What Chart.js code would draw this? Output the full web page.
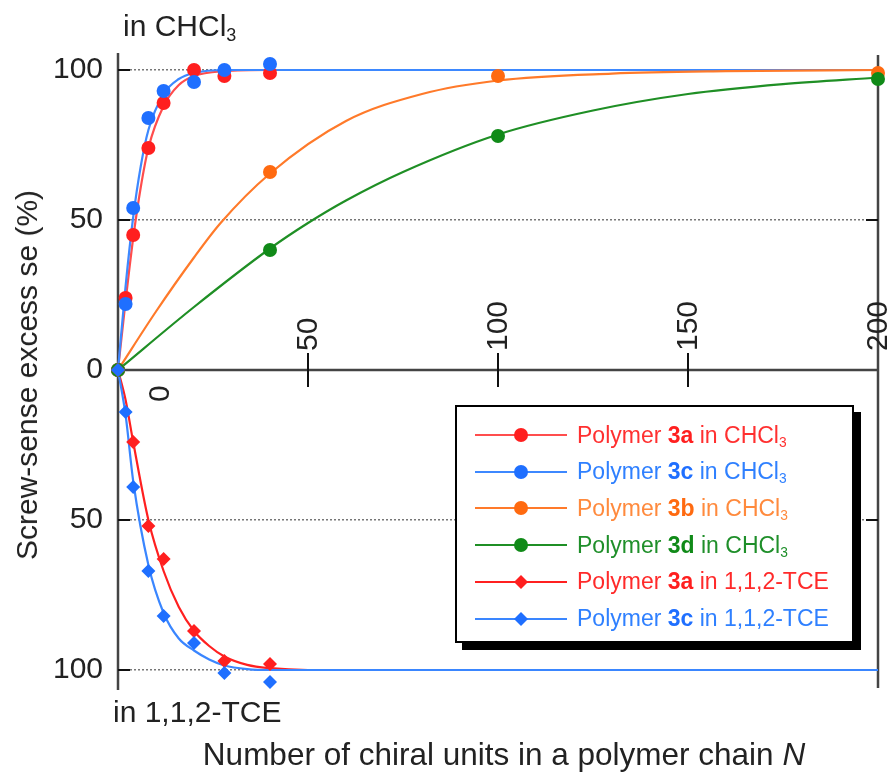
<!DOCTYPE html>
<html>
<head>
<meta charset="utf-8">
<script src="https://cdn.jsdelivr.net/npm/chart.js@4.4.1/dist/chart.umd.min.js"></script>
<style>
  body { margin: 0; background: #fff; }
  #wrap { position: relative; width: 889px; height: 772px; overflow: hidden; font-family: "Liberation Sans", Arial, sans-serif; color: #222; }
  .lbl { position: absolute; font-size: 30px; line-height: 30px; white-space: nowrap; }
  sub { font-size: 0.6em; vertical-align: -0.3em; line-height: 0; }
  #ytitle { left: 27px; top: 375px; transform: translate(-50%, -50%) rotate(-90deg); }
  #xtitle { left: 504px; top: 739px; font-size: 31.5px; line-height: 31.5px; transform: translateX(-50%); }
  #legend { position: absolute; left: 455px; top: 405px; width: 395px; height: 234px; border: 2px solid #000;
            background: #fff; box-shadow: 7px 7px 0 #000; }
  .row { position: absolute; left: 18px; height: 24px; display: flex; align-items: center; font-size: 23px; white-space: nowrap; }
  .row svg { margin-right: 10px; }
</style>
</head>
<body>
<div id="wrap">
  <canvas id="grafico" width="889" height="772"></canvas>
  <div class="lbl" style="left:123px; top:11px;">in CHCl<sub>3</sub></div>
  <div class="lbl" style="left:113px; top:697px;">in 1,1,2-TCE</div>
  <div class="lbl" id="ytitle">Screw-sense excess se (%)</div>
  <div class="lbl" id="xtitle">Number of chiral units in a polymer chain <i>N</i></div>
  <div id="legend"></div>
</div>
<script>
// axis ticks
const xTickValues = [0, 50, 100, 150, 200];
const xTickLabels = ['0', '50', '100', '150', '200'];
const yTickValues = [-100, -50, 0, 50, 100];

// measured points (N, se %), TCE values plotted downward
const nShort = [0, 2, 4, 8, 12, 20, 28, 40];
const se3aCHCl3 = [0, 24, 45, 74, 89, 100, 98, 99];
const se3cCHCl3 = [0, 22, 54, 84, 93, 96, 100, 102];
const nLong = [0, 40, 100, 200];
const se3bCHCl3 = [0, 66, 98, 99];
const se3dCHCl3 = [0, 40, 78, 97];
const nTCE3a = [0, 4, 8, 12, 20, 28, 40];
const se3aTCE = [0, -24, -52, -63, -87, -97, -98];
const nTCE3c = [0, 2, 4, 8, 12, 20, 28, 40];
const se3cTCE = [0, -14, -39, -67, -82, -91, -101, -104];

// fitted curves
const fitNShort = [0, 2, 4, 6, 8, 12, 16, 20, 28, 40, 200];
const fit3aCHCl3 = [0, 23, 44, 61, 74, 88, 95, 98, 99.6, 100, 100];
const fit3cCHCl3 = [0, 28, 51, 68, 80, 92, 97, 99, 100, 100, 100];
const fitN3b = [0, 10, 20, 27, 40, 60, 80, 100, 130, 160, 200];
const fit3b = [0, 19.5, 37.5, 49, 65.5, 83, 92, 96.5, 98.8, 99.6, 100];
const fitN3d = [0, 20, 40, 50, 60, 75, 100, 125, 150, 175, 200];
const fit3d = [0, 21, 40.5, 49, 56.5, 66, 78.5, 86.5, 92, 95.3, 97.5];
const fitNTCE = [0, 2, 4, 8, 12, 16, 20, 24, 28, 34, 40, 50, 200];
const fit3aTCE = [0, -10, -24, -50, -67, -79, -87, -92, -95.5, -98.3, -99.4, -100, -100];
const fit3cTCE = [0, -15, -37, -65, -81, -89.5, -93.5, -96.5, -98.5, -99.7, -100, -100, -100];

const ROJO = '#ff1f1f', AZUL = '#1f6fff', NARANJA = '#ff6a10', VERDE = '#108a18';

const series = [
    { poly: '3a', solv: 'CHCl3', color: ROJO, line: '#ff4d4d', text: '#ff3030', marker: 'circle', n: nShort, se: se3aCHCl3, fn: fitNShort, fit: fit3aCHCl3 },
    { poly: '3c', solv: 'CHCl3', color: AZUL, line: '#3d88ff', text: '#2f80ff', marker: 'circle', n: nShort, se: se3cCHCl3, fn: fitNShort, fit: fit3cCHCl3 },
    { poly: '3b', solv: 'CHCl3', color: NARANJA, line: '#ff7a2a', text: '#ff8a3d', marker: 'circle', n: nLong, se: se3bCHCl3, fn: fitN3b, fit: fit3b },
    { poly: '3d', solv: 'CHCl3', color: VERDE, line: '#1f8f25', text: '#1f8f2a', marker: 'circle', n: nLong, se: se3dCHCl3, fn: fitN3d, fit: fit3d },
    { poly: '3a', solv: '1,1,2-TCE', color: ROJO, line: '#ff2020', text: '#ff2a2a', marker: 'rectRot', n: nTCE3a, se: se3aTCE, fn: fitNTCE, fit: fit3aTCE },
    { poly: '3c', solv: '1,1,2-TCE', color: AZUL, line: '#3a86ff', text: '#2f80ff', marker: 'rectRot', n: nTCE3c, se: se3cTCE, fn: fitNTCE, fit: fit3cTCE }
];

function puntos(xs, ys) {
    return xs.map((x, i) => ({ x: x, y: ys[i] }));
}

const datasets = [];
series.forEach((s, i) => {
    datasets.push({
        label: 'fit ' + s.poly + ' ' + s.solv,
        data: puntos(s.fn, s.fit),
        showLine: true,
        borderColor: s.line,
        borderWidth: 2.2,
        pointRadius: 0,
        cubicInterpolationMode: 'monotone',
        clip: false,
        order: 20 - i
    });
    datasets.push({
        label: 'Polymer ' + s.poly + ' in ' + s.solv,
        data: puntos(s.n, s.se),
        showLine: false,
        pointStyle: s.marker,
        pointRadius: 7,
        backgroundColor: s.color,
        borderColor: s.color,
        borderWidth: 0,
        clip: false,
        order: 10 - i
    });
});

// axis frame, zero line, tick marks and rotated N labels
const marco = {
    id: 'marco',
    beforeDatasetsDraw(chart) {
        const { ctx, chartArea: a, scales: { x, y } } = chart;
        const y0 = y.getPixelForValue(0);
        ctx.save();
        ctx.strokeStyle = '#444';
        ctx.lineWidth = 2.5;
        ctx.beginPath();
        ctx.moveTo(a.left, a.top + 1); ctx.lineTo(a.left, a.bottom - 1);
        ctx.moveTo(a.right, a.top + 3); ctx.lineTo(a.right, a.bottom - 3);
        ctx.moveTo(a.left, y0); ctx.lineTo(a.right, y0);
        ctx.stroke();

        ctx.strokeStyle = '#111';
        ctx.lineWidth = 2;
        ctx.beginPath();
        yTickValues.forEach(v => {
            if (v === 0) return;
            const py = y.getPixelForValue(v);
            ctx.moveTo(a.left, py); ctx.lineTo(a.left + 12, py);
            ctx.moveTo(a.right, py); ctx.lineTo(a.right - 12, py);
        });
        xTickValues.forEach(v => {
            if (v <= x.min || v >= x.max) return;
            const px = x.getPixelForValue(v);
            ctx.moveTo(px, y0 - 17); ctx.lineTo(px, y0 + 17);
        });
        ctx.stroke();

        ctx.fillStyle = '#222';
        ctx.font = '30px "Liberation Sans", Arial, sans-serif';
        ctx.textAlign = 'left';
        ctx.textBaseline = 'middle';
        xTickValues.forEach((v, i) => {
            const px = x.getPixelForValue(v);
            ctx.save();
            if (v === 0) {
                ctx.translate(px + 42, y0 + 32);
            } else {
                ctx.translate(px, y0 - 19);
            }
            ctx.rotate(-Math.PI / 2);
            ctx.fillText(xTickLabels[i], 0, 1);
            ctx.restore();
        });
        ctx.restore();
    }
};

const ctx = document.getElementById('grafico').getContext('2d');
const grafico = new Chart(ctx, {
    type: 'scatter',
    data: { datasets: datasets },
    options: {
        responsive: false,
        animation: false,
        devicePixelRatio: 1,
        layout: { padding: { left: 0, right: 11, top: 52, bottom: 81 } },
        scales: {
            x: { type: 'linear', min: 0, max: 200, display: false },
            y: {
                type: 'linear',
                min: -107,
                max: 106,
                afterFit(scale) { scale.width = 118; },
                afterBuildTicks(scale) { scale.ticks = yTickValues.map(v => ({ value: v })); },
                ticks: {
                    callback: v => Math.abs(v),
                    color: '#222',
                    padding: 15,
                    font: { family: '"Liberation Sans", Arial, sans-serif', size: 30 }
                },
                grid: {
                    drawTicks: false,
                    lineWidth: 1.5,
                    color: c => (c.tick && c.tick.value === 0) ? 'rgba(0,0,0,0)' : '#777'
                },
                border: { display: false, dash: [2, 2] }
            }
        },
        plugins: {
            legend: { display: false },
            tooltip: { enabled: false }
        }
    },
    plugins: [marco]
});

// legend box
const leyenda = document.getElementById('legend');
series.forEach((s, i) => {
    const row = document.createElement('div');
    row.className = 'row';
    row.style.top = (16 + i * 36.7) + 'px';
    row.style.color = s.text;
    const simbolo = s.marker === 'circle'
        ? `<circle cx="46" cy="12" r="7" fill="${s.color}"/>`
        : `<polygon points="46,5 53,12 46,19 39,12" fill="${s.color}"/>`;
    const solv = s.solv === 'CHCl3' ? 'CHCl<sub>3</sub>' : s.solv;
    row.innerHTML = `<svg width="92" height="24"><line x1="0" y1="12" x2="92" y2="12" stroke="${s.line}" stroke-width="2"/>${simbolo}</svg>` +
        `<span>Polymer <b style="color:${s.color}">${s.poly}</b> in ${solv}</span>`;
    leyenda.appendChild(row);
});
</script>
</body>
</html>
